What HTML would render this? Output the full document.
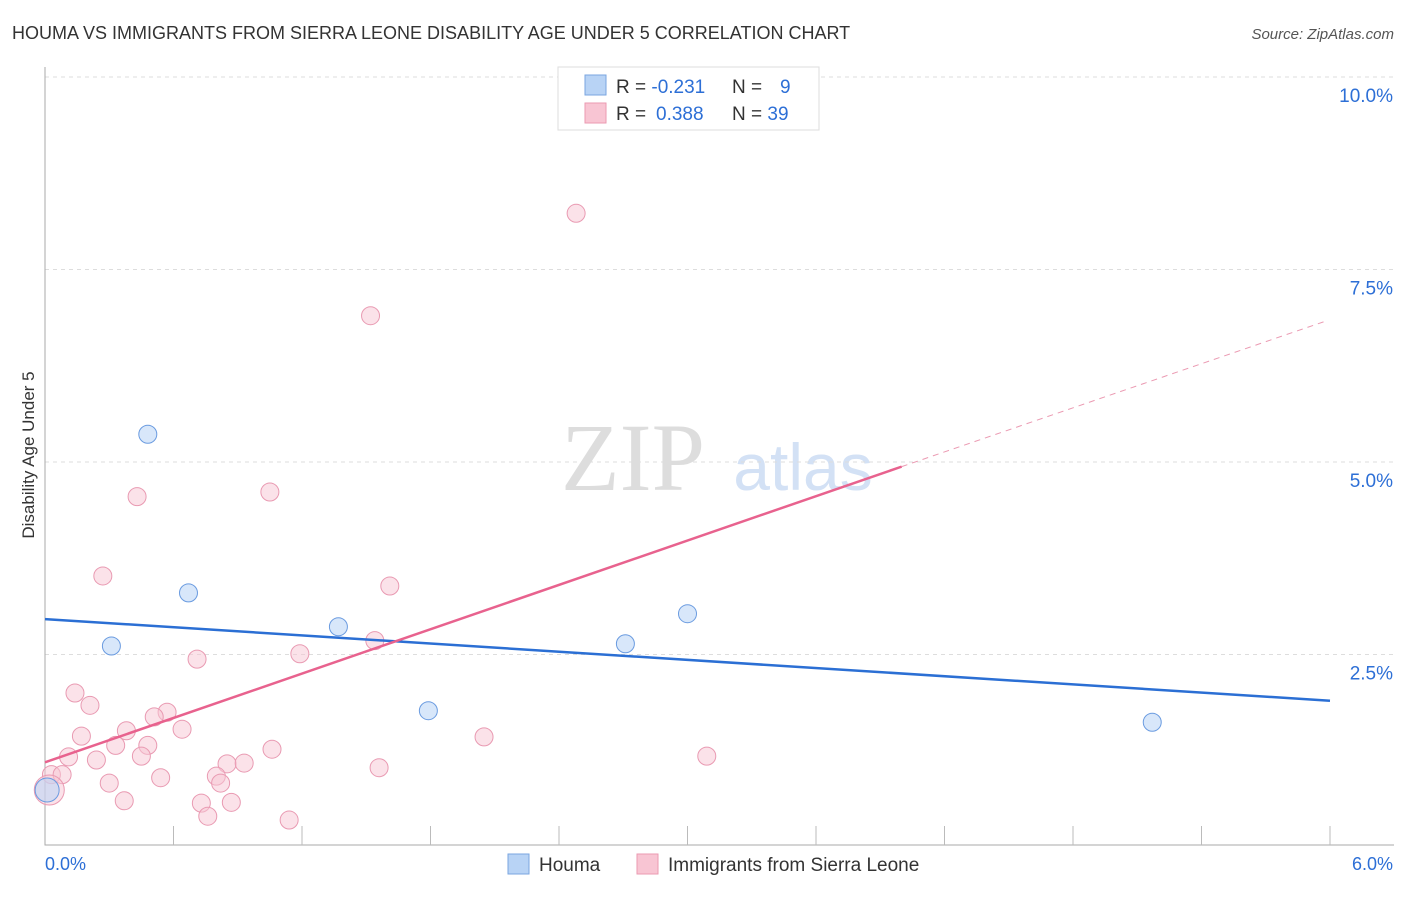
<!DOCTYPE html>
<html><head><meta charset="utf-8"><style>
body{margin:0;background:#fff;font-family:"Liberation Sans",sans-serif;}
</style></head><body>
<svg id="c" width="1406" height="892" xmlns="http://www.w3.org/2000/svg">
<text x="12" y="39" font-size="18" fill="#333">HOUMA VS IMMIGRANTS FROM SIERRA LEONE DISABILITY AGE UNDER 5 CORRELATION CHART</text>
<text x="1394" y="39" font-size="15" fill="#555" font-style="italic" text-anchor="end">Source: ZipAtlas.com</text>
<text x="633" y="490" font-size="96" fill="#ddd" font-family="Liberation Serif,serif" text-anchor="middle">ZIP</text>
<text x="803" y="490" font-size="66" fill="#d3e1f5" text-anchor="middle">atlas</text>
<text transform="translate(34,455) rotate(-90)" font-size="17" fill="#333" text-anchor="middle">Disability Age Under 5</text>
<g id="grid"></g><g id="marks"></g>
<g>
<rect x="558" y="67" width="261" height="63" fill="#fff" stroke="#ddd"/>
<rect x="585" y="75" width="21" height="20" fill="#b8d3f5" stroke="#7aa6e0"/>
<rect x="585" y="103" width="21" height="20" fill="#f8c5d3" stroke="#eb9ab2"/>
<text x="616" y="93" font-size="19" fill="#333">R = <tspan fill="#2d6fd6">-0.231</tspan></text>
<text x="732" y="93" font-size="19" fill="#333">N = <tspan fill="#2d6fd6" x="780">9</tspan></text>
<text x="616" y="120" font-size="19" fill="#333">R = <tspan fill="#2d6fd6" x="656">0.388</tspan></text>
<text x="732" y="120" font-size="19" fill="#333">N = <tspan fill="#2d6fd6">39</tspan></text>
</g>
<g>
<rect x="508" y="854" width="21" height="20" fill="#b8d3f5" stroke="#7aa6e0"/>
<text x="539" y="871" font-size="19" fill="#333">Houma</text>
<rect x="637" y="854" width="21" height="20" fill="#f8c5d3" stroke="#eb9ab2"/>
<text x="668" y="871" font-size="19" fill="#333">Immigrants from Sierra Leone</text>
</g>
</svg>
<script>
const yTicks=[2.5,5.0,7.5,10.0];
const xTickLabels=["0.0%","6.0%"];
const pinkX=[2.48,1.52,0.43,1.05,0.27,1.61,0.71,1.19,1.54,0.14,0.21,0.57,0.51,0.11,0.17,0.38,0.64,0.33,0.48,0.24,0.45,1.06,2.05,3.09,0.85,0.93,0.80,0.82,0.54,0.30,1.56,0.03,0.08,0.37,0.73,0.87,0.76,1.14,0.02];
const pinkY=[8.23,6.90,4.55,4.61,3.52,3.39,2.44,2.51,2.68,2.00,1.84,1.75,1.69,1.17,1.44,1.51,1.53,1.32,1.32,1.13,1.18,1.27,1.43,1.18,1.08,1.09,0.92,0.83,0.90,0.83,1.03,0.94,0.94,0.60,0.57,0.58,0.40,0.35,0.74];
const blueX=[0.48,0.67,0.31,1.37,2.71,3.00,1.79,5.17,0.01];
const blueY=[5.36,3.30,2.61,2.86,2.64,3.03,1.77,1.62,0.74];
const blueTrend=[[0,2.96],[6,1.90]];
const pinkTrend=[[0,1.10],[4.0,4.94]];
const pinkDash=[[4.0,4.94],[5.98,6.83]];
const X0=45,X1=1330,Y0=847,YS=77;
const sx=v=>X0+(X1-X0)*v/6, sy=v=>Y0-v*YS;
const NS="http://www.w3.org/2000/svg";
function mk(p,t,a){const e=document.createElementNS(NS,t);for(const k in a)e.setAttribute(k,a[k]);p.appendChild(e);return e;}
const g=document.getElementById('grid'),m=document.getElementById('marks');
yTicks.forEach(t=>{
 const l=mk(g,'line',{x1:X0,x2:1394,y1:sy(t),y2:sy(t),stroke:'#ddd','stroke-dasharray':'4,4'});
 
 
 const tx=mk(g,'text',{x:1393,y:sy(t)+25,'font-size':19,fill:'#2d6fd6','text-anchor':'end'});
 tx.textContent=t.toFixed(1)+'%';
 
 
});
const ax=mk(g,'path',{d:`M${X0} 67V845H1394`,stroke:'#aaa',fill:'none'});


for(let i=1;i<=10;i++){const x=X0+i*128.5;const t=mk(g,'line',{x1:x,x2:x,y1:826,y2:845,stroke:'#bbb'});
 
 }
[[0,'start',45],[6,'end',1393]].forEach((d,i)=>{const t=mk(g,'text',{x:d[2],y:870,'font-size':18,fill:'#2d6fd6','text-anchor':d[1]});t.textContent=xTickLabels[i];
 
 });
pinkX.forEach((v,i)=>{const r=i==pinkX.length-1?15:9;const c=mk(m,'circle',{cx:sx(v),cy:sy(pinkY[i]),r:r,fill:'#f8c5d3','fill-opacity':0.5,stroke:'#e99ab2'});
 
 });
blueX.forEach((v,i)=>{const r=i==blueX.length-1?12:9;const c=mk(m,'circle',{cx:sx(v),cy:sy(blueY[i]),r:r,fill:'#b8d3f5','fill-opacity':0.55,stroke:'#6a9be0'});
 
 });
function ln(p,st,w,da,name){const l=mk(m,'line',{x1:sx(p[0][0]),y1:sy(p[0][1]),x2:sx(p[1][0]),y2:sy(p[1][1]),stroke:st,'stroke-width':w});if(da)l.setAttribute('stroke-dasharray',da);
 
 }
ln(blueTrend,'#2b6fd4',2.5,null,'houma-trend-line');
ln(pinkTrend,'#e8628e',2.5,null,'sierra-leone-trend-line');
ln(pinkDash,'#eb9ab2',1,'6,5','sierra-leone-trend-extension');
</script>
</body></html>
